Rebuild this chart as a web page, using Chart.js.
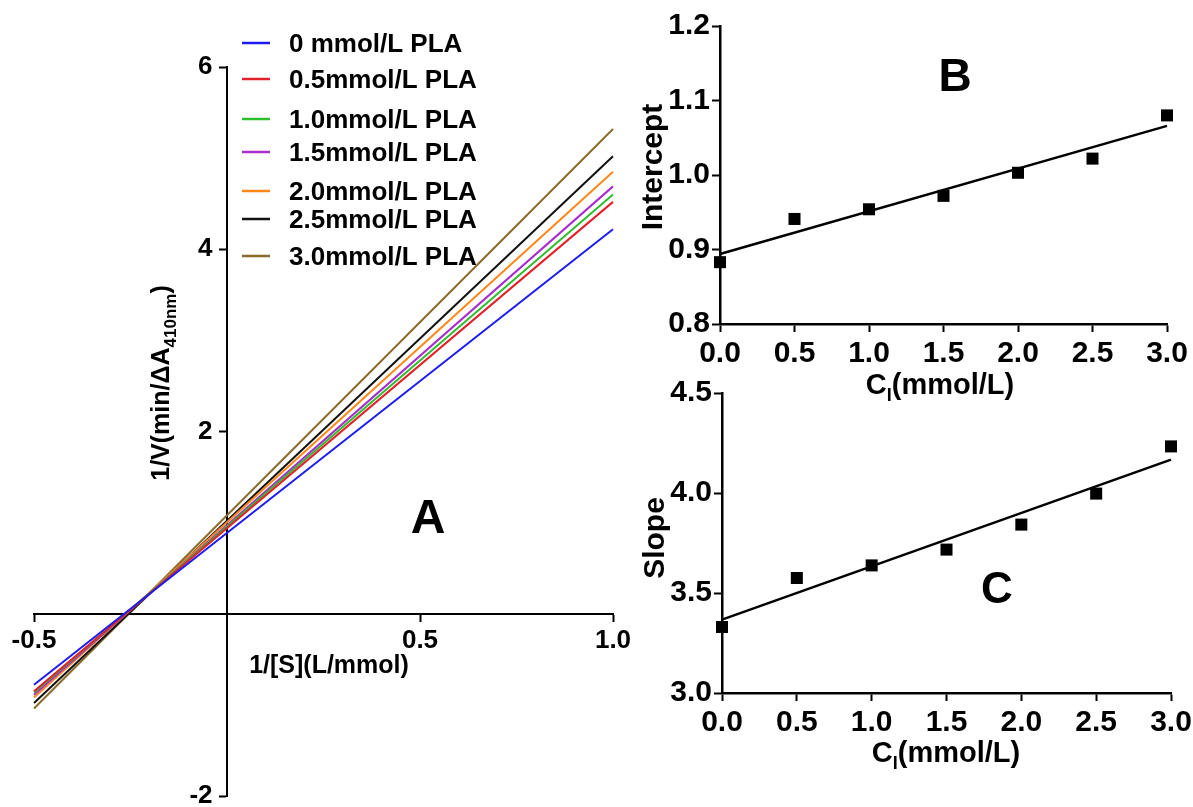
<!DOCTYPE html>
<html><head><meta charset="utf-8">
<script src="https://cdn.jsdelivr.net/npm/chart.js@4.4.1/dist/chart.umd.min.js"></script>
<style>
html,body{margin:0;padding:0;background:#fff;}
#wrap{position:relative;width:1193px;height:807px;overflow:hidden;background:#fff;}
canvas{position:absolute;left:0;top:0;}
</style>
</head><body>
<div id="wrap">
<canvas id="cA" width="1193" height="807"></canvas>
<canvas id="cB" width="1193" height="807"></canvas>
<canvas id="cC" width="1193" height="807"></canvas>
</div>
<script>
// ---------------- data ----------------
// Panel A: Lineweaver-Burk lines (1/V vs 1/[S]) at two ends of the x range
const seriesLabels = ['0 mmol/L PLA','0.5mmol/L PLA','1.0mmol/L PLA','1.5mmol/L PLA','2.0mmol/L PLA','2.5mmol/L PLA','3.0mmol/L PLA'];
const seriesColors = ['#1c1cf2','#e2202a','#2dbd2d','#a92ccc','#ff8618','#111111','#8a6b2c'];
const invSEnds = [-0.5, 1.0];
const invVAtLeft  = [-0.78, -0.85, -0.865, -0.89, -0.92, -0.98, -1.04];
const invVAtRight = [4.22, 4.52, 4.60, 4.69, 4.85, 5.02, 5.32];
const xTicksA = [-0.5, 0.5, 1.0];
const yTicksA = [-2, 2, 4, 6];

// Panels B and C: secondary plots vs inhibitor concentration
const concentrations = [0, 0.5, 1.0, 1.5, 2.0, 2.5, 3.0];
const intercepts = [0.883, 0.941, 0.954, 0.972, 1.003, 1.022, 1.080];
const slopes     = [3.330, 3.575, 3.638, 3.717, 3.842, 3.997, 4.233];
const fitEnds = [0, 3.0];
const interceptFit = [0.894, 1.066];
const slopeFit     = [3.367, 4.167];
const concTicks = [0, 0.5, 1.0, 1.5, 2.0, 2.5, 3.0];
const interceptTicks = [0.8, 0.9, 1.0, 1.1, 1.2];
const slopeTicks = [3.0, 3.5, 4.0, 4.5];

// ---------------- helpers ----------------
const FONT = "'Liberation Sans', Arial, Helvetica, sans-serif";
Chart.defaults.font.family = FONT;
Chart.defaults.color = '#000';

const textPlugin = {
  id: 'texts',
  afterDraw(chart, args, opts) {
    const ctx = chart.ctx;
    (opts.items || []).forEach(it => {
      ctx.save();
      ctx.translate(it.x, it.y);
      if (it.rot) ctx.rotate(it.rot);
      ctx.fillStyle = '#000';
      ctx.textAlign = 'left';
      ctx.textBaseline = 'alphabetic';
      let total = 0;
      it.parts.forEach(p => { ctx.font = 'bold ' + p.size + 'px ' + FONT; p.w = ctx.measureText(p.t).width; total += p.w; });
      let cx = -total / 2;
      const base = it.parts[0].size * 0.36;
      it.parts.forEach(p => {
        ctx.font = 'bold ' + p.size + 'px ' + FONT;
        ctx.fillText(p.t, cx, base + (p.dy || 0));
        cx += p.w;
      });
      ctx.restore();
    });
  }
};

const legendPlugin = {
  id: 'lineLegend',
  afterDraw(chart, args, opts) {
    if (!opts.rows) return;
    const ctx = chart.ctx;
    ctx.save();
    chart.data.datasets.forEach((ds, i) => {
      const y = opts.rows[i];
      ctx.strokeStyle = ds.borderColor;
      ctx.lineWidth = 2.5;
      ctx.beginPath(); ctx.moveTo(opts.x0, y); ctx.lineTo(opts.x1, y); ctx.stroke();
      ctx.fillStyle = '#000';
      ctx.font = 'bold ' + opts.size + 'px ' + FONT;
      ctx.textAlign = 'left';
      ctx.textBaseline = 'alphabetic';
      ctx.fillText(ds.label, opts.tx, y + opts.size * 0.36);
    });
    ctx.restore();
  }
};

function fixTicks(arr) { return s => { s.ticks = arr.map(v => ({ value: v })); }; }
function zeroPad(s) { s.paddingTop = 0; s.paddingBottom = 0; s.paddingLeft = 0; s.paddingRight = 0; }
const fmt1 = v => Number(v).toFixed(1);

// ---------------- Panel A ----------------
new Chart(document.getElementById('cA'), {
  type: 'scatter',
  data: {
    datasets: seriesLabels.map((lab, i) => ({
      label: lab,
      data: [{ x: invSEnds[0], y: invVAtLeft[i] }, { x: invSEnds[1], y: invVAtRight[i] }],
      showLine: true,
      borderColor: seriesColors[i],
      backgroundColor: seriesColors[i],
      borderWidth: 2,
      pointRadius: 0,
      clip: false
    }))
  },
  options: {
    responsive: false, animation: false, events: [],
    layout: { padding: { left: 34, top: 67, right: 1193 - 613, bottom: 807 - 796 } },
    plugins: {
      legend: { display: false }, tooltip: { enabled: false },
      lineLegend: { rows: [43, 79, 119, 152, 191, 219, 256], x0: 242, x1: 270, tx: 289, size: 26 },
      texts: { items: [
        { x: 160, y: 383, rot: -Math.PI / 2, parts: [{ t: '1/V(min/ΔA', size: 25 }, { t: '410nm', size: 17, dy: 7 }, { t: ')', size: 25 }] },
        { x: 329, y: 664, parts: [{ t: '1/[S](L/mmol)', size: 25 }] },
        { x: 428, y: 516, parts: [{ t: 'A', size: 48 }] }
      ] }
    },
    scales: {
      x: {
        type: 'linear', min: -0.5, max: 1.0, position: { y: 0 },
        afterBuildTicks: fixTicks(xTicksA),
        afterFit: s => { s.height = 0; zeroPad(s); },
        ticks: { callback: fmt1, font: { size: 26, weight: 'bold' }, color: '#000', padding: 4, maxRotation: 0, autoSkip: false },
        grid: { drawOnChartArea: false, tickLength: 7, tickWidth: 2, tickColor: '#000' },
        border: { color: '#000', width: 2 }
      },
      y: {
        type: 'linear', min: -2, max: 6, position: { x: 0 },
        afterBuildTicks: fixTicks(yTicksA),
        afterFit: s => { s.width = 0; zeroPad(s); },
        ticks: { callback: v => String(v) + '  ', font: { size: 26, weight: 'bold' }, color: '#000', padding: 4, autoSkip: false },
        grid: { drawOnChartArea: false, tickLength: 7, tickWidth: 2, tickColor: '#000' },
        border: { color: '#000', width: 2 }
      }
    }
  },
  plugins: [textPlugin, legendPlugin]
});

// ---------------- Panels B and C ----------------
function secondary(canvasId, yVals, fitVals, yTicks, area, texts) {
  new Chart(document.getElementById(canvasId), {
    type: 'scatter',
    data: {
      datasets: [
        {
          label: 'data',
          data: concentrations.map((c, i) => ({ x: c, y: yVals[i] })),
          pointStyle: 'rect', pointRadius: 8.5, backgroundColor: '#000', borderColor: '#000', borderWidth: 0,
          clip: false
        },
        {
          label: 'fit',
          data: fitEnds.map((c, i) => ({ x: c, y: fitVals[i] })),
          showLine: true, borderColor: '#000', borderWidth: 2.5, pointRadius: 0, clip: false
        }
      ]
    },
    options: {
      responsive: false, animation: false, events: [],
      layout: { padding: { left: 0, top: area.top, right: 1193 - area.right, bottom: 0 } },
      plugins: { legend: { display: false }, tooltip: { enabled: false }, texts: { items: texts } },
      scales: {
        x: {
          type: 'linear', min: concTicks[0], max: concTicks[concTicks.length - 1], position: 'bottom',
          afterBuildTicks: fixTicks(concTicks),
          afterFit: s => { s.height = 807 - area.bottom; zeroPad(s); },
          ticks: { callback: fmt1, font: { size: 30, weight: 'bold' }, color: '#000', padding: 4, maxRotation: 0, autoSkip: false },
          grid: { drawOnChartArea: false, tickLength: 8, tickWidth: 2, tickColor: '#000' },
          border: { color: '#000', width: 2.5 }
        },
        y: {
          type: 'linear', min: yTicks[0], max: yTicks[yTicks.length - 1], position: 'left',
          afterBuildTicks: fixTicks(yTicks),
          afterFit: s => { s.width = area.left; zeroPad(s); },
          ticks: { callback: fmt1, font: { size: 30, weight: 'bold' }, color: '#000', padding: 2, autoSkip: false },
          grid: { drawOnChartArea: false, tickLength: 8, tickWidth: 2, tickColor: '#000' },
          border: { color: '#000', width: 2.5 }
        }
      }
    },
    plugins: [textPlugin]
  });
}

secondary('cB', intercepts, interceptFit, interceptTicks, { left: 720, right: 1167, top: 26, bottom: 324 }, [
  { x: 651, y: 167, rot: -Math.PI / 2, parts: [{ t: 'Intercept', size: 30 }] },
  { x: 940, y: 384, parts: [{ t: 'C', size: 29 }, { t: 'I', size: 18, dy: 7 }, { t: '(mmol/L)', size: 29 }] },
  { x: 955, y: 74, parts: [{ t: 'B', size: 46 }] }
]);

secondary('cC', slopes, slopeFit, slopeTicks, { left: 722, right: 1171, top: 393, bottom: 693 }, [
  { x: 653, y: 538, rot: -Math.PI / 2, parts: [{ t: 'Slope', size: 30 }] },
  { x: 946, y: 752, parts: [{ t: 'C', size: 29 }, { t: 'I', size: 18, dy: 7 }, { t: '(mmol/L)', size: 29 }] },
  { x: 997, y: 587, parts: [{ t: 'C', size: 44 }] }
]);
</script>
</body></html>
